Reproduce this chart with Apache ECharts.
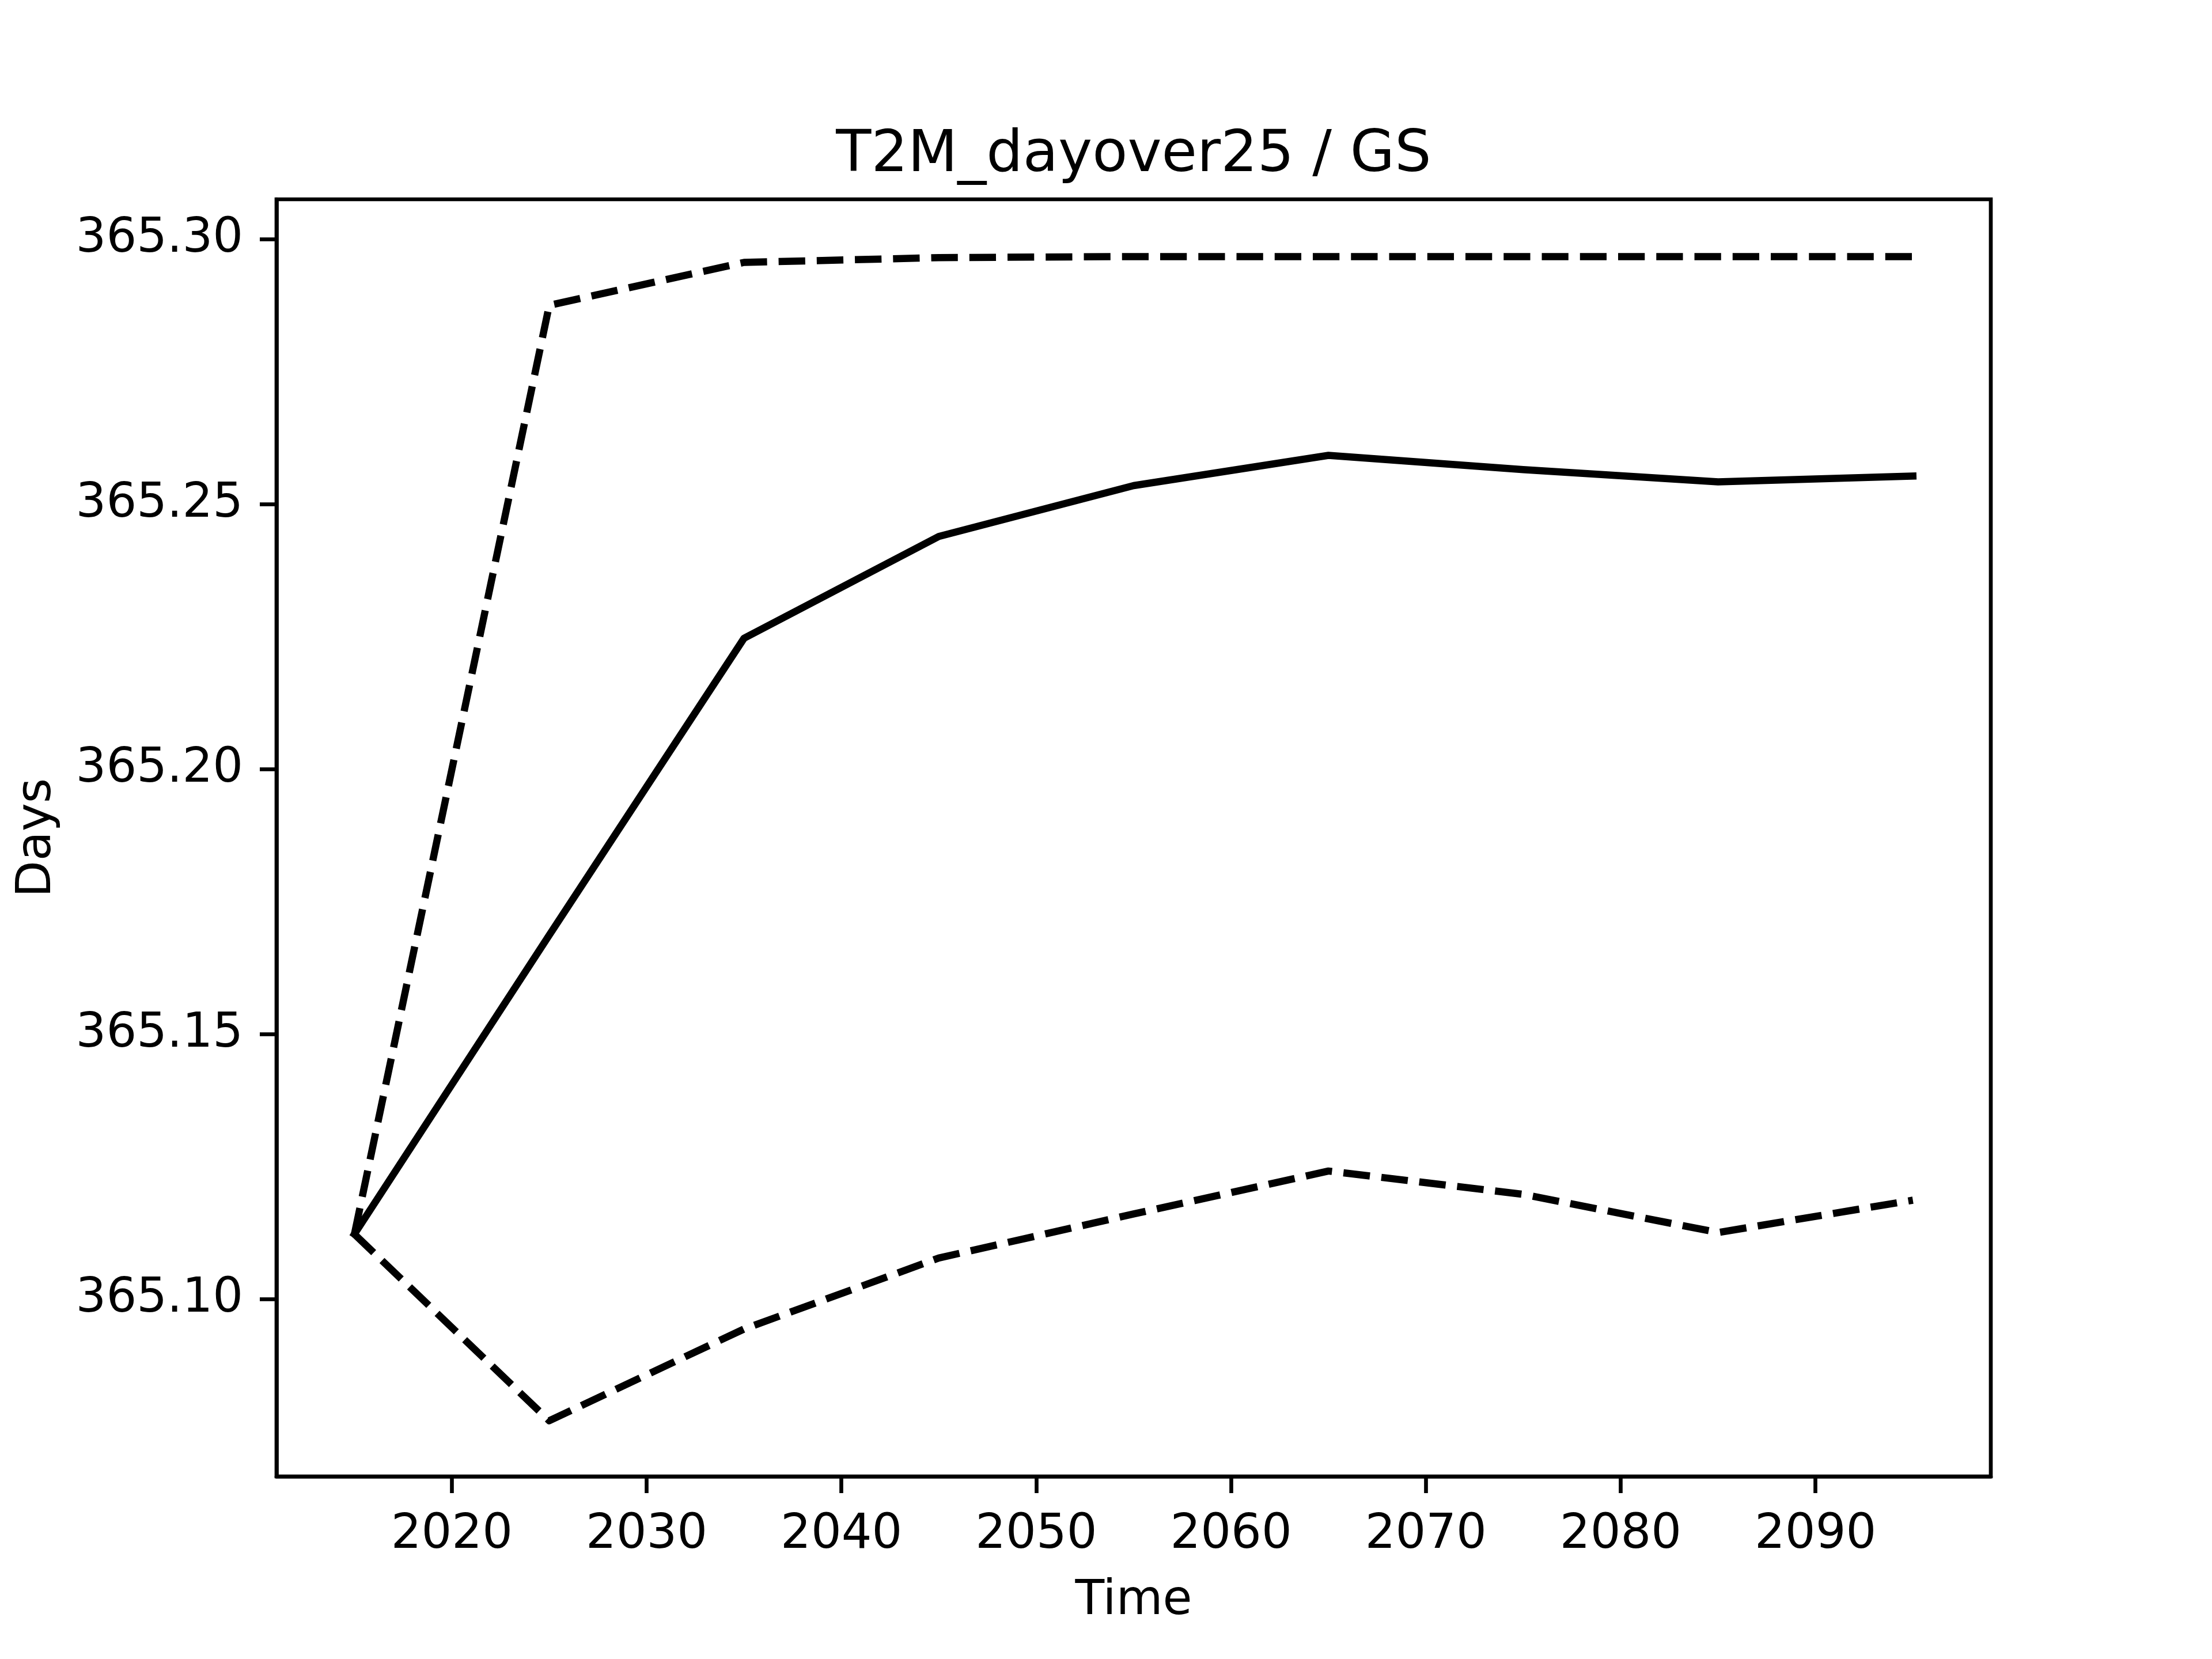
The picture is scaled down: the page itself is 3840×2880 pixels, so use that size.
<!DOCTYPE html>
<html>
<head>
<meta charset="utf-8">
<script src="https://cdn.jsdelivr.net/npm/echarts@6/dist/echarts.min.js"></script>
<style>
  html, body { margin: 0; padding: 0; background: #fff; }
  #chart { width: 3840px; height: 2880px; }
</style>
</head>
<body>
<div id="chart"></div>
<script>
const titleText = 'T2M_dayover25 / GS';
const xName = 'Time';
const yName = 'Days';
const years = [2015, 2025, 2035, 2045, 2055, 2065, 2075, 2085, 2095];
const meanValues  = [365.1123, 365.1687, 365.2247, 365.2439, 365.2535, 365.2592, 365.2565, 365.2542, 365.2553];
const upperValues = [365.1123, 365.2875, 365.2956, 365.2965, 365.2967, 365.2967, 365.2967, 365.2967, 365.2967];
const lowerValues = [365.1123, 365.0771, 365.0944, 365.1078, 365.1161, 365.1242, 365.1198, 365.1126, 365.1187];
const xTicks = [2020, 2030, 2040, 2050, 2060, 2070, 2080, 2090];
const yTicks = [365.10, 365.15, 365.20, 365.25, 365.30];

const FONT = 'DejaVu Sans';
const FS = 83;
const AXW = 6.67;
const LW = 12.5;
const DASH = [46.25, 20];

function pairs(vals) { return years.map((y, i) => [y, vals[i]]); }

const chart = echarts.init(document.getElementById('chart'), null, { renderer: 'canvas' });
chart.setOption({
  animation: false,
  backgroundColor: '#ffffff',
  title: {
    text: titleText,
    left: 1968,
    top: 221,
    textAlign: 'center',
    padding: 0,
    textStyle: { fontFamily: FONT, fontSize: 100, fontWeight: 'normal', color: '#000' }
  },
  grid: {
    left: 480, right: 384, top: 346, bottom: 317,
    show: true, borderColor: '#000', borderWidth: AXW, backgroundColor: 'transparent'
  },
  xAxis: {
    type: 'value', min: 2011, max: 2099,
    name: xName, nameLocation: 'middle', nameGap: 176,
    nameTextStyle: { fontFamily: FONT, fontSize: FS, color: '#000' },
    axisLine: { show: true, lineStyle: { color: '#000', width: AXW } },
    axisTick: { show: true, inside: false, length: 29, customValues: xTicks, lineStyle: { color: '#000', width: AXW } },
    axisLabel: { show: true, margin: 61, customValues: xTicks, fontFamily: FONT, fontSize: FS, color: '#000',
                 formatter: v => String(Math.round(v)) },
    splitLine: { show: false }
  },
  yAxis: {
    type: 'value', min: 365.0666, max: 365.3075,
    name: yName, nameLocation: 'middle', nameGap: 373, nameRotate: 90,
    nameTextStyle: { fontFamily: FONT, fontSize: FS, color: '#000' },
    axisLine: { show: true, lineStyle: { color: '#000', width: AXW } },
    axisTick: { show: true, inside: false, length: 29, customValues: yTicks, lineStyle: { color: '#000', width: AXW } },
    axisLabel: { show: true, margin: 58, customValues: yTicks, fontFamily: FONT, fontSize: FS, color: '#000',
                 padding: [12, 0, 0, 0],
                 formatter: v => Number(v).toFixed(2) },
    splitLine: { show: false }
  },
  series: [
    { name: 'upper', type: 'line', data: pairs(upperValues), showSymbol: false, symbol: 'none',
      lineStyle: { color: '#000', width: LW, type: DASH, cap: 'butt', join: 'round' } },
    { name: 'lower', type: 'line', data: pairs(lowerValues), showSymbol: false, symbol: 'none',
      lineStyle: { color: '#000', width: LW, type: DASH, cap: 'butt', join: 'round' } },
    { name: 'mean', type: 'line', data: pairs(meanValues), showSymbol: false, symbol: 'none',
      lineStyle: { color: '#000', width: LW, type: 'solid', cap: 'square', join: 'round' } }
  ]
});
</script>
</body>
</html>
